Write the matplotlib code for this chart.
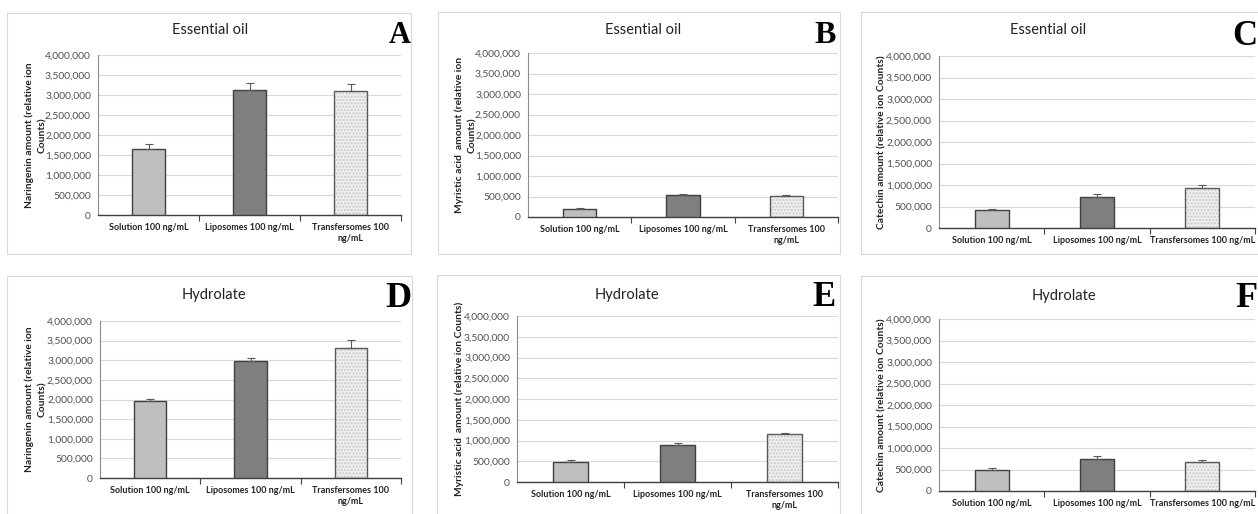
import numpy as np
import matplotlib
matplotlib.use("Agg")
import matplotlib.pyplot as plt
from matplotlib.patches import Rectangle
from matplotlib.ticker import FuncFormatter

plt.rcParams['font.family'] = ['Lato', 'DejaVu Sans']

W, H = 1258, 514

cats_wrap = ["Solution 100 ng/mL", "Liposomes 100 ng/mL", "Transfersomes 100\nng/mL"]
cats_line = ["Solution 100 ng/mL", "Liposomes 100 ng/mL", "Transfersomes 100 ng/mL"]

titles = ["Essential oil", "Essential oil", "Essential oil", "Hydrolate", "Hydrolate", "Hydrolate"]
letters = ["A", "B", "C", "D", "E", "F"]
ylabels = ["Naringenin amount (relative ion\nCounts)",
           "Myristic acid  amount (relative ion\nCounts)",
           "Catechin amount (relative ion Counts)",
           "Naringenin amount (relative ion\nCounts)",
           "Myristic acid  amount (relative ion Counts)",
           "Catechin amount (relative ion Counts)"]

# values (relative ion counts) and upper error
vals_A = [1650000, 3120000, 3090000]
err_A = [130000, 190000, 190000]
vals_B = [190000, 530000, 510000]
err_B = [20000, 30000, 30000]
vals_C = [410000, 720000, 940000]
err_C = [40000, 70000, 60000]
vals_D = [1960000, 2970000, 3320000]
err_D = [50000, 100000, 190000]
vals_E = [480000, 880000, 1150000]
err_E = [40000, 60000, 40000]
vals_F = [490000, 750000, 680000]
err_F = [40000, 60000, 50000]

all_vals = [vals_A, vals_B, vals_C, vals_D, vals_E, vals_F]
all_errs = [err_A, err_B, err_C, err_D, err_E, err_F]
all_cats = [cats_wrap, cats_wrap, cats_line, cats_wrap, cats_wrap, cats_line]

# layout in pixels: axes (left, top, right, bottom), frame (left, top, right, bottom)
axes_px = [(98, 55, 401, 215), (528, 53, 838, 217), (939, 56, 1255, 228),
           (100, 321, 401, 478), (517, 316, 838, 482), (939, 319, 1255, 491)]
frames_px = [(7, 13, 411, 254), (438, 12, 840, 254), (861, 12, 1262, 254),
             (7, 276, 412, 520), (437, 275, 840, 520), (861, 276, 1262, 520)]
title_px = [(210, 30), (643, 30), (1048, 30), (214, 295), (627, 295), (1064, 296)]
ylab_x = [36, 466, 882, 36, 459, 882]
# letter: right edge x, baseline y, size
letter_px = [(411, 43, 22), (836, 43, 23), (1257, 45, 25),
             (411, 307, 26), (836, 306, 25), (1257, 307, 26)]

fills = ['#BFBFBF', '#7F7F7F', '#EFEFEF']
edges = ['#404040', '#404040', '#595959']

fig = plt.figure(figsize=(W / 100, H / 100), dpi=100)

for i in range(6):
    fl, ft, fr, fb = frames_px[i]
    fig.patches.append(Rectangle((fl / W, 1 - fb / H), (fr - fl) / W, (fb - ft) / H,
                                 transform=fig.transFigure, fill=False,
                                 edgecolor='#D9D9D9', linewidth=0.8))
    l, t, r, b = axes_px[i]
    ax = fig.add_axes([l / W, 1 - b / H, (r - l) / W, (b - t) / H])
    x = np.arange(3)
    v = all_vals[i]
    e = all_errs[i]
    for k in range(3):
        if k == 2:
            ax.bar(x[k], v[k], width=0.32, color=fills[k], hatch='.....',
                   edgecolor='#C8C8C8', linewidth=0, zorder=2)
            ax.bar(x[k], v[k], width=0.32, fill=False, edgecolor=edges[k],
                   linewidth=1.0, zorder=3)
        else:
            ax.bar(x[k], v[k], width=0.32, color=fills[k], edgecolor=edges[k],
                   linewidth=1.0, zorder=3)
    ax.errorbar(x, v, yerr=[[0, 0, 0], e], fmt='none', ecolor='#595959',
                elinewidth=0.8, capsize=3, capthick=0.8, zorder=4)
    ax.set_xlim(-0.5, 2.5)
    ax.set_ylim(0, 4000000)
    ax.set_yticks(np.arange(0, 4000001, 500000))
    ax.yaxis.set_major_formatter(FuncFormatter(lambda y, p: f"{int(y):,}"))
    ax.grid(axis='y', color='#D9D9D9', linewidth=0.8, zorder=0)
    ax.set_axisbelow(True)
    ax.set_xticks(x)
    ax.set_xticklabels(all_cats[i], fontsize=6.5, fontweight='bold', color='#222222')
    ax.set_xticks([0.5, 1.5, 2.5], minor=True)
    ax.tick_params(axis='x', which='major', length=0, pad=6)
    ax.tick_params(axis='x', which='minor', length=4, color='#404040', width=0.8)
    ax.tick_params(axis='y', length=0, labelsize=7.4, labelcolor='#505050', pad=5)
    for s in ['top', 'right']:
        ax.spines[s].set_visible(False)
    ax.spines['left'].set_color('#8C8C8C')
    ax.spines['bottom'].set_color('#404040')
    ax.spines['bottom'].set_linewidth(1.0)
    ax.set_ylabel(ylabels[i], fontsize=7.4, fontweight='bold', color='#222222',
                  linespacing=1.5)
    ax.yaxis.set_label_coords((ylab_x[i] - l) / (r - l), 0.5)
    ax.yaxis.label.set_va('center')
    tx, ty = title_px[i]
    fig.text(tx / W, 1 - ty / H, titles[i], fontsize=10.5, ha='center', va='center', color='#222222')
    lx, ly, ls = letter_px[i]
    fig.text(lx / W, 1 - ly / H, letters[i], fontsize=ls, fontweight='bold',
             family='Liberation Serif', ha='right', va='baseline', color='black')

fig.savefig("out.png", dpi=100, facecolor='white')
